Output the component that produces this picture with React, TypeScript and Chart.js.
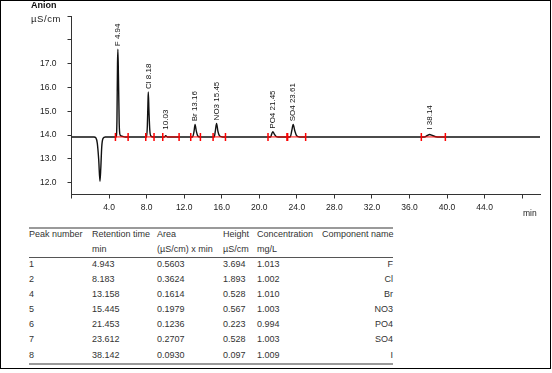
import React, { useEffect, useRef } from 'react';
import { Chart, registerables } from 'chart.js';

Chart.register(...registerables);

const FONT = "'Liberation Sans', Arial, Helvetica, sans-serif";

// Chromatogram trace (time in min, conductivity in µS/cm)
const TRACE_TIME = [
  0, 2.4, 2.6, 2.75, 2.9, 3.03, 3.12, 3.22, 3.36, 3.6,
  4.75, 4.84, 4.9, 4.94, 5.0, 5.08, 5.18, 5.4, 5.7,
  8.0, 8.08, 8.14, 8.18, 8.25, 8.34, 8.45, 8.7,
  9.9, 10.03, 10.2,
  12.9, 13.05, 13.16, 13.3, 13.45, 13.7,
  15.2, 15.33, 15.45, 15.6, 15.78, 16.1,
  21.2, 21.33, 21.45, 21.6, 21.8, 22.0,
  23.3, 23.47, 23.61, 23.78, 23.98, 24.3,
  37.6, 37.9, 38.14, 38.45, 38.8, 39.2,
  49.9,
];
const TRACE_SIGNAL = [
  13.92, 13.92, 13.88, 13.65, 12.95, 12.05, 12.6, 13.5, 13.86, 13.92,
  13.92, 14.6, 17.0, 17.61, 16.5, 14.5, 14.0, 13.95, 13.92,
  13.92, 14.4, 15.3, 15.81, 15.0, 14.2, 13.96, 13.92,
  13.92, 13.97, 13.92,
  13.92, 14.15, 14.45, 14.15, 13.96, 13.92,
  13.92, 14.2, 14.49, 14.15, 13.96, 13.92,
  13.92, 14.05, 14.14, 14.04, 13.94, 13.92,
  13.92, 14.2, 14.45, 14.18, 13.97, 13.92,
  13.92, 13.98, 14.02, 13.98, 13.93, 13.92,
  13.92,
];

const BASELINE = 13.92;

// Peak annotations
const PEAK_LABELS = ['F 4.94', 'Cl 8.18', '10.03', 'Br 13.16', 'NO3 15.45', 'PO4 21.45', 'SO4 23.61', 'I 38.14'];
const PEAK_TIMES = [4.94, 8.18, 10.03, 13.16, 15.45, 21.45, 23.61, 38.14];
const PEAK_TOPS = [17.61, 15.81, 13.97, 14.45, 14.49, 14.14, 14.45, 14.02];

// Integration limits (min)
const INT_START = [4.68, 7.91, 9.72, 12.7, 15.08, 20.93, 23.02, 37.26];
const INT_END = [6.03, 8.79, 11.46, 13.73, 16.4, 22.95, 24.94, 39.82];

// Axis ticks
const X_TICKS = [0, 4, 8, 12, 16, 20, 24, 28, 32, 36, 40, 44, 48];
const Y_TICKS = [12, 13, 14, 15, 16, 17, 18, 19];

// Result table
const TBL_HEAD = ['Peak number', 'Retention time', 'Area', 'Height', 'Concentration', 'Component name'];
const TBL_UNITS = ['', 'min', '(µS/cm) x min', 'µS/cm', 'mg/L', ''];
const TBL_PEAK_NO = ['1', '2', '4', '5', '6', '7', '8'];
const TBL_RT = ['4.943', '8.183', '13.158', '15.445', '21.453', '23.612', '38.142'];
const TBL_AREA = ['0.5603', '0.3624', '0.1614', '0.1979', '0.1236', '0.2707', '0.0930'];
const TBL_HEIGHT = ['3.694', '1.893', '0.528', '0.567', '0.223', '0.528', '0.097'];
const TBL_CONC = ['1.013', '1.002', '1.010', '1.003', '0.994', '1.003', '1.009'];
const TBL_NAME = ['F', 'Cl', 'Br', 'NO3', 'PO4', 'SO4', 'I'];

const COL_X = [29, 92, 157, 223, 257, 322];
const TABLE_RIGHT = 393;

export default function App() {
  const ref = useRef<HTMLCanvasElement>(null);

  useEffect(() => {
    const canvas = ref.current;
    if (!canvas) return;

    const peakLabelPlugin = {
      id: 'peakLabels',
      afterDatasetsDraw(chart: any) {
        const ctx = chart.ctx;
        const xs = chart.scales.x;
        const ys = chart.scales.y;
        ctx.save();
        ctx.fillStyle = '#111';
        ctx.font = `8px ${FONT}`;
        ctx.textAlign = 'left';
        ctx.textBaseline = 'middle';
        PEAK_LABELS.forEach((lab, i) => {
          const x = xs.getPixelForValue(PEAK_TIMES[i]);
          const y = ys.getPixelForValue(Math.max(PEAK_TOPS[i], 14.1)) - 3;
          ctx.save();
          ctx.translate(x, y);
          ctx.rotate(-Math.PI / 2);
          ctx.fillText(lab, 0, 0);
          ctx.restore();
        });
        ctx.restore();
      },
    };

    const datasets: any[] = [
      {
        data: TRACE_TIME.map((t, i) => ({ x: t, y: TRACE_SIGNAL[i] })),
        borderColor: '#111',
        borderWidth: 1.4,
        pointRadius: 0,
        cubicInterpolationMode: 'monotone',
        order: 2,
      },
    ];
    INT_START.forEach((s, i) => {
      datasets.push({
        data: [
          { x: s, y: BASELINE },
          { x: INT_END[i], y: BASELINE },
        ],
        borderColor: '#ff0000',
        borderWidth: 1,
        pointStyle: 'line',
        rotation: 90,
        pointRadius: 4,
        pointBorderColor: '#ff0000',
        pointBorderWidth: 1.5,
        order: 1,
      });
    });

    const chart = new Chart(canvas, {
      type: 'line',
      data: { datasets },
      options: {
        responsive: false,
        devicePixelRatio: 1,
        animation: false,
        layout: { padding: { top: 13, right: 12, left: 0, bottom: 0 } },
        plugins: { legend: { display: false }, tooltip: { enabled: false } },
        scales: {
          x: {
            type: 'linear',
            min: 0,
            max: 49.9,
            afterBuildTicks: (s: any) => {
              s.ticks = X_TICKS.map((v) => ({ value: v }));
            },
            afterFit: (s: any) => {
              s.height = 27.5;
            },
            border: { display: true, color: '#333', width: 1 },
            grid: { display: true, drawOnChartArea: false, drawTicks: true, tickLength: 4, color: '#333' },
            ticks: {
              autoSkip: false,
              maxRotation: 0,
              padding: 4,
              color: '#222',
              font: { family: FONT, size: 8.5 },
              callback: (v: any) => (v >= 4 && v <= 44 ? Number(v).toFixed(1) : ''),
            },
          },
          y: {
            type: 'linear',
            min: 11.5,
            max: 19,
            afterBuildTicks: (s: any) => {
              s.ticks = Y_TICKS.map((v) => ({ value: v }));
            },
            afterFit: (s: any) => {
              s.width = 71.5;
            },
            border: { display: true, color: '#333', width: 1 },
            grid: { display: true, drawOnChartArea: false, drawTicks: true, tickLength: 4, color: '#333' },
            ticks: {
              autoSkip: false,
              padding: 11,
              color: '#222',
              font: { family: FONT, size: 8.5 },
              callback: (v: any) => (v <= 17 ? Number(v).toFixed(1) : ''),
            },
          },
        },
      },
      plugins: [peakLabelPlugin],
    } as any);

    return () => chart.destroy();
  }, []);

  const textBase: React.CSSProperties = {
    position: 'absolute',
    fontFamily: FONT,
    fontSize: 9,
    color: '#333',
    whiteSpace: 'nowrap',
    lineHeight: '15px',
    height: 15,
  };

  const rowCenters = [264, 279, 294, 309, 324, 339, 355];
  const cols = [TBL_PEAK_NO, TBL_RT, TBL_AREA, TBL_HEIGHT, TBL_CONC];

  return (
    <div style={{ position: 'absolute', left: 0, top: 0, width: 552, height: 373, background: '#fff', overflow: 'hidden' }}>
      <canvas ref={ref} width={552} height={222} style={{ position: 'absolute', left: 0, top: 0, display: 'block' }} />
      <div style={{ position: 'absolute', left: 31, top: 0, fontFamily: FONT, fontSize: 9, fontWeight: 'bold', lineHeight: '10px', color: '#111' }}>
        Anion
      </div>
      <div style={{ position: 'absolute', left: 31, top: 13, fontFamily: FONT, fontSize: 9.5, lineHeight: '12px', letterSpacing: 0.6, color: '#222' }}>
        µS/cm
      </div>
      <div style={{ position: 'absolute', left: 523, top: 207, fontFamily: FONT, fontSize: 8.5, lineHeight: '12px', color: '#222' }}>
        min
      </div>

      {/* table rules */}
      <div style={{ position: 'absolute', left: COL_X[0], top: 227, width: TABLE_RIGHT - COL_X[0], height: 2, background: '#9a9a9a' }} />
      <div style={{ position: 'absolute', left: COL_X[0], top: 257, width: TABLE_RIGHT - COL_X[0], height: 1, background: '#555' }} />
      <div style={{ position: 'absolute', left: COL_X[0], top: 363, width: TABLE_RIGHT - COL_X[0], height: 2, background: '#9a9a9a' }} />

      {TBL_HEAD.map((h, i) => (
        <div key={'h' + i} style={{ ...textBase, left: COL_X[i], top: 234 - 7.5 }}>
          {h}
        </div>
      ))}
      {TBL_UNITS.map((u, i) =>
        u ? (
          <div key={'u' + i} style={{ ...textBase, left: COL_X[i], top: 249 - 7.5 }}>
            {u}
          </div>
        ) : null
      )}
      {rowCenters.map((c, r) => (
        <React.Fragment key={'r' + r}>
          {cols.map((col, ci) => (
            <div key={ci} style={{ ...textBase, left: COL_X[ci], top: c - 7.5 }}>
              {col[r]}
            </div>
          ))}
          <div style={{ ...textBase, left: COL_X[5], width: TABLE_RIGHT - COL_X[5], textAlign: 'right', top: c - 7.5 }}>
            {TBL_NAME[r]}
          </div>
        </React.Fragment>
      ))}

      <div style={{ position: 'absolute', left: 0, top: 0, width: 551, height: 369, border: '1px solid #000', boxSizing: 'border-box', pointerEvents: 'none' }} />
    </div>
  );
}
